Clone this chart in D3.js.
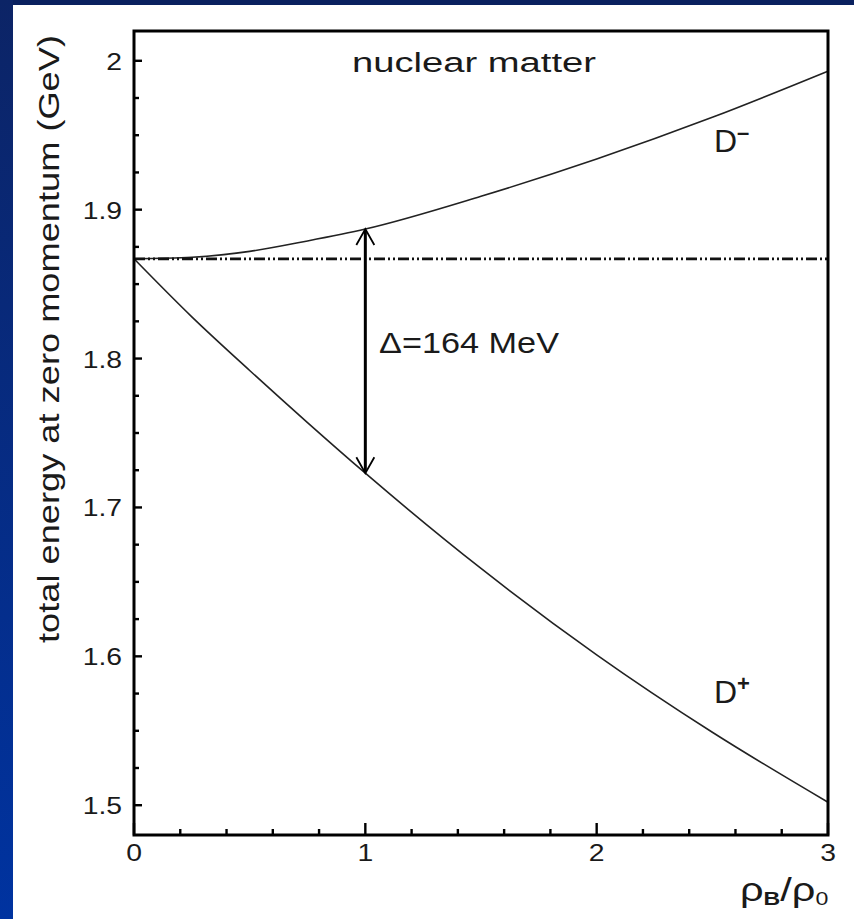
<!DOCTYPE html>
<html>
<head>
<meta charset="utf-8">
<script src="https://cdn.jsdelivr.net/npm/d3@7"></script>
<style>
  html, body { margin: 0; padding: 0; background: #ffffff; }
  svg { display: block; }
  text { font-family: "Liberation Sans", Arial, Helvetica, sans-serif; fill: #1a1a1a; }
</style>
</head>
<body>
<svg id="chart" width="854" height="919"></svg>
<script>
// Baryon density in units of normal nuclear density
const density = [0, 0.25, 0.5, 0.75, 1, 1.5, 2, 2.5, 3];
// Total energy at zero momentum (GeV)
const dMinus = [1.867, 1.868, 1.872, 1.879, 1.887, 1.909, 1.934, 1.962, 1.993];
const dPlus  = [1.867, 1.828, 1.792, 1.757, 1.723, 1.659, 1.601, 1.549, 1.502];
const vacuumMass = 1.867;
const splitAt = 1;           // density where the splitting is marked
const splitLabel = "\u0394=164 MeV";

const xMajorTicks = [0, 1, 2, 3];
const xMinorTicks = d3.range(0, 3.0001, 0.2);
const yMajorTicks = [1.5, 1.6, 1.7, 1.8, 1.9, 2];
const yMinorTicks = d3.range(1.5, 2.0001, 0.025);
const yTickLabels = ["1.5", "1.6", "1.7", "1.8", "1.9", "2"];
const xTickLabels = ["0", "1", "2", "3"];

const svg = d3.select("#chart");

// Slide-style frame: navy top band, blue gradient left band
const defs = svg.append("defs");
const grad = defs.append("linearGradient").attr("id", "sideGrad")
  .attr("x1", 0).attr("y1", 0).attr("x2", 0).attr("y2", 1);
grad.append("stop").attr("offset", "0%").attr("stop-color", "#0c2466");
grad.append("stop").attr("offset", "100%").attr("stop-color", "#0033a0");
svg.append("rect").attr("x", 0).attr("y", 0).attr("width", 854).attr("height", 919).attr("fill", "#ffffff");
svg.append("rect").attr("x", 0).attr("y", 0).attr("width", 854).attr("height", 5).attr("fill", "#0a215f");
svg.append("rect").attr("x", 0).attr("y", 0).attr("width", 13).attr("height", 919).attr("fill", "url(#sideGrad)");

const plot = { left: 134, right: 828, top: 31, bottom: 835 };
const x = d3.scaleLinear().domain([0, 3]).range([plot.left, plot.right]);
const y = d3.scaleLinear().domain([1.48, 2.02]).range([plot.bottom, plot.top]);

const g = svg.append("g");

// Curves
const line = d3.line().x((d, i) => x(density[i])).y(d => y(d)).curve(d3.curveMonotoneX);
[dMinus, dPlus].forEach(series => {
  g.append("path").datum(series).attr("d", line)
    .attr("fill", "none").attr("stroke", "#222").attr("stroke-width", 1.6);
});

// Vacuum mass reference line
g.append("line")
  .attr("x1", x(0)).attr("x2", x(3)).attr("y1", y(vacuumMass)).attr("y2", y(vacuumMass))
  .attr("stroke", "#111").attr("stroke-width", 2.8)
  .attr("stroke-dasharray", "11,3,2,3,2,3");

// Double arrow showing the splitting at rho = rho0
const iSplit = density.indexOf(splitAt);
const ax = x(splitAt), ayTop = y(dMinus[iSplit]), ayBot = y(dPlus[iSplit]);
g.append("line").attr("x1", ax).attr("x2", ax).attr("y1", ayTop + 1).attr("y2", ayBot - 1)
  .attr("stroke", "#000").attr("stroke-width", 3);
const head = (tipY, dir) => `M${ax - 9},${tipY + dir * 16} L${ax},${tipY} L${ax + 9},${tipY + dir * 16}`;
g.append("path").attr("d", head(ayTop, 1)).attr("fill", "none").attr("stroke", "#000").attr("stroke-width", 1.8);
g.append("path").attr("d", head(ayBot, -1)).attr("fill", "none").attr("stroke", "#000").attr("stroke-width", 1.8);

// Axis frame
g.append("rect").attr("x", plot.left).attr("y", plot.top)
  .attr("width", plot.right - plot.left).attr("height", plot.bottom - plot.top)
  .attr("fill", "none").attr("stroke", "#000").attr("stroke-width", 3);

// Ticks (pointing inward)
const isMajorX = v => xMajorTicks.some(m => Math.abs(m - v) < 1e-6);
const isMajorY = v => yMajorTicks.some(m => Math.abs(m - v) < 1e-6);
xMinorTicks.forEach(v => {
  const len = isMajorX(v) ? 12 : 6;
  g.append("line").attr("x1", x(v)).attr("x2", x(v))
    .attr("y1", plot.bottom).attr("y2", plot.bottom - len)
    .attr("stroke", "#000").attr("stroke-width", 2.4);
});
yMinorTicks.forEach(v => {
  const len = isMajorY(v) ? 8 : 5;
  g.append("line").attr("x1", plot.left).attr("x2", plot.left + len)
    .attr("y1", y(v)).attr("y2", y(v))
    .attr("stroke", "#000").attr("stroke-width", 2.4);
});

// Wide-glyph text helper (horizontal stretch around the anchor point)
function wideText(parent, tx, ty, str, size, anchor, sx) {
  return parent.append("text")
    .attr("transform", `translate(${tx},${ty}) scale(${sx},1)`)
    .attr("text-anchor", anchor).attr("font-size", size).text(str);
}

// Tick labels
yMajorTicks.forEach((v, i) => wideText(g, 122, y(v) + 9, yTickLabels[i], 24, "end", 1.18));
xMajorTicks.forEach((v, i) => wideText(g, x(v), 861, xTickLabels[i], 24, "middle", 1.18));

// Annotations
g.append("text").attr("x", 352).attr("y", 72).attr("font-size", 27)
  .attr("textLength", 244).attr("lengthAdjust", "spacingAndGlyphs").text("nuclear matter");
g.append("text").attr("x", 379).attr("y", 353).attr("font-size", 30)
  .attr("textLength", 180).attr("lengthAdjust", "spacingAndGlyphs").text(splitLabel);

const dm = g.append("text").attr("x", 714).attr("y", 152).attr("font-size", 32);
dm.append("tspan").text("D");
dm.append("tspan").attr("dy", -12).attr("font-size", 22).attr("font-weight", "bold").text("\u2013");
const dp = g.append("text").attr("x", 714).attr("y", 703).attr("font-size", 32);
dp.append("tspan").text("D");
dp.append("tspan").attr("dy", -12).attr("font-size", 22).attr("font-weight", "bold").text("+");

// Axis titles
g.append("text").attr("transform", "translate(59,339) rotate(-90)")
  .attr("text-anchor", "middle").attr("font-size", 29)
  .attr("textLength", 608).attr("lengthAdjust", "spacingAndGlyphs")
  .text("total energy at zero momentum  (GeV)");

const xt = g.append("text").attr("transform", "translate(740,901) scale(1.22,1)").attr("font-size", 34);
xt.append("tspan").text("\u03c1");
xt.append("tspan").attr("font-size", 19).attr("font-weight", "bold").attr("dy", 4).text("B");
xt.append("tspan").attr("font-size", 34).attr("dy", -4).text("/\u03c1");
xt.append("tspan").attr("font-size", 19).attr("dy", 4).text("0");
</script>
</body>
</html>
